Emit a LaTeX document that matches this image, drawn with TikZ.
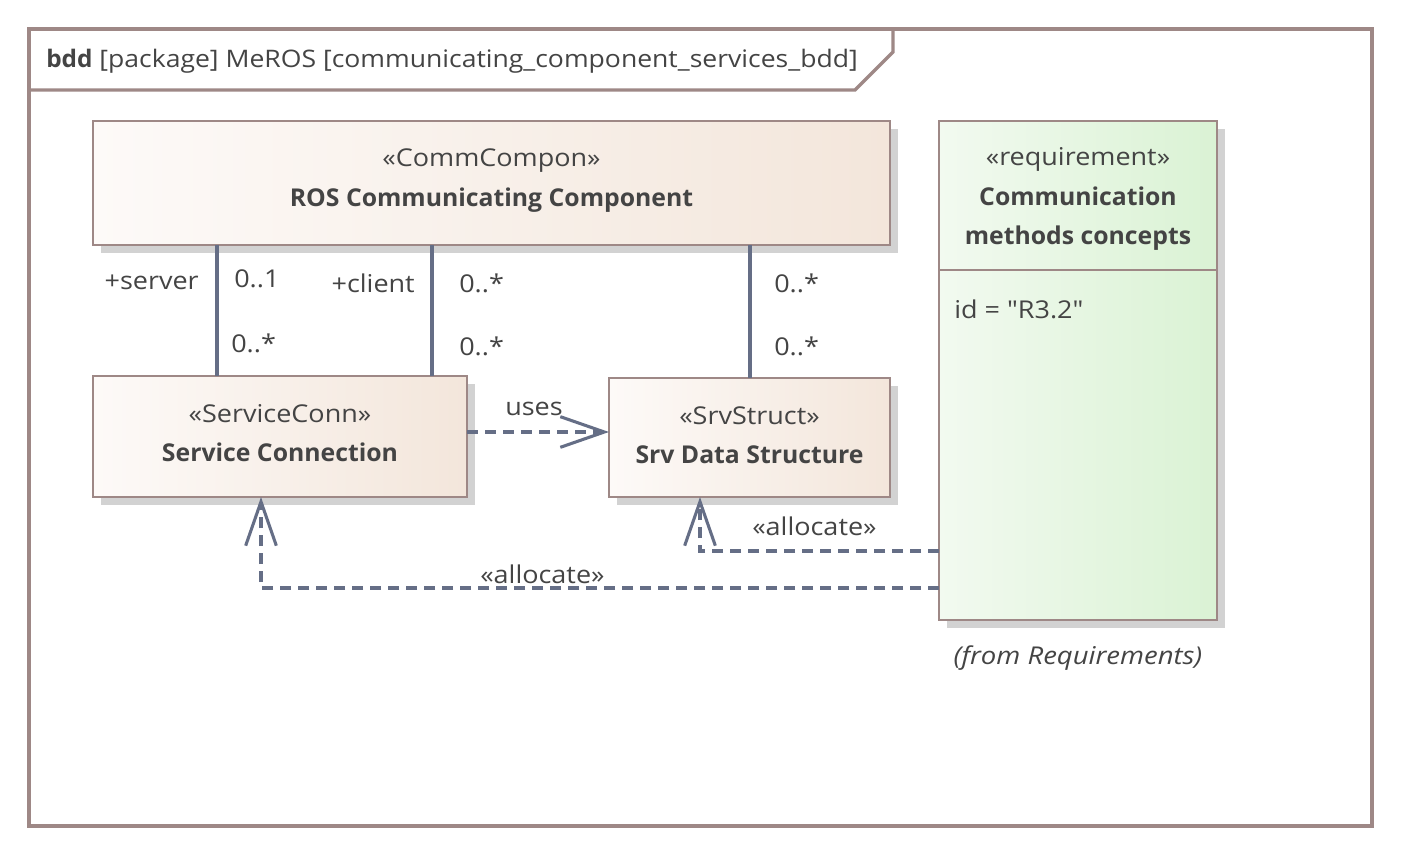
\documentclass[tikz,border=0pt]{standalone}
\usepackage{fontspec}
\setmainfont{Open Sans}[FakeStretch=1.10,
  BoldFeatures={FakeStretch=1.01},
  ItalicFeatures={FakeStretch=1.12}]
\newfontfamily\plainquote{Open Sans}[FakeStretch=1.10]
\usetikzlibrary{arrows.meta}
\definecolor{framec}{RGB}{158,136,134}
\definecolor{textc}{RGB}{68,68,68}
\definecolor{linkc}{RGB}{101,110,134}
\definecolor{shadowc}{RGB}{210,210,210}
\definecolor{beigeL}{RGB}{253,250,248}
\definecolor{beigeR}{RGB}{243,230,219}
\definecolor{greenL}{RGB}{242,250,240}
\definecolor{greenR}{RGB}{218,242,212}
\begin{document}
\begin{tikzpicture}[x=0.75pt,y=-0.75pt,
  every node/.style={text=textc,font=\fontsize{18.4pt}{22pt}\selectfont,inner sep=0pt},
  boxshadow/.style={preaction={fill=shadowc,transform canvas={shift={(6pt,-6pt)}}}},
  blockbox/.style={rectangle,draw=framec,line width=1.9pt,boxshadow,
    left color=beigeL,right color=beigeR,outer sep=0pt},
  reqbox/.style={rectangle,draw=framec,line width=1.9pt,boxshadow,
    left color=greenL,right color=greenR,outer sep=0pt},
  assoc/.style={draw=linkc,line width=2.3pt},
  dep/.style={draw=linkc,line width=2.3pt,dash pattern=on 8.5pt off 5pt,
    -{Straight Barb[length=33pt,width=23pt,line width=2.3pt]}},
  lbl/.style={anchor=base},
]
\useasboundingbox (0,0) rectangle (1401,855);
\fill[white] (0,0) rectangle (1401,855);

% diagram frame and its heading tab
\draw[framec,line width=2.6pt] (29,29) rectangle (1372,826);
\draw[framec,line width=2.6pt] (29,90) -- (855,90) -- (893,52) -- (893,29);
\node[anchor=base west,font=\fontsize{18.1pt}{22pt}\selectfont] (title) at (46,68)
  {\textbf{bdd} [package] MeROS [communicating\_component\_services\_bdd]};

% blocks
\node[blockbox,minimum width=0.75pt*797,minimum height=0.75pt*124] (comm) at (491.5,183) {};
\node[blockbox,minimum width=0.75pt*374,minimum height=0.75pt*121] (svc) at (280,436.5) {};
\node[blockbox,minimum width=0.75pt*281,minimum height=0.75pt*119] (srv) at (749.5,437.5) {};
\node[reqbox,minimum width=0.75pt*278,minimum height=0.75pt*499] (req) at (1078,370.5) {};
\draw[framec,line width=1.9pt] (req.west |- 0,270) -- (req.east |- 0,270);

% block texts
\node[lbl] (commS) at (491.5,167) {«CommCompon»};
\node[lbl] (commN) at (491.5,207) {\textbf{ROS Communicating Component}};
\node[lbl] (svcS) at (280,422) {«ServiceConn»};
\node[lbl] (svcN) at (280,461) {\textbf{Service Connection}};
\node[lbl] (srvS) at (749.5,424) {«SrvStruct»};
\node[lbl] (srvN) at (749.5,463) {\textbf{Srv Data Structure}};
\node[lbl] (reqS) at (1078,166) {«requirement»};
\node[lbl] (reqN1) at (1078,206) {\textbf{Communication}};
\node[lbl] (reqN2) at (1078,245) {\textbf{methods concepts}};
\node[anchor=base west] (reqId) at (954,318) {id = {\plainquote"R3.2"}};
\node[lbl] (reqFrom) at (1078,664) {\textit{(from Requirements)}};

% associations
\draw[assoc] (comm.south -| 217,0) -- (svc.north -| 217,0);
\draw[assoc] (comm.south -| 432,0) -- (svc.north -| 432,0);
\draw[assoc] (comm.south -| 750,0) -- (srv.north -| 750,0);
\node[anchor=base east] (server) at (199,290) {+server};
\node[anchor=base west] (m1) at (234,287) {0..1};
\node[anchor=base west] (m2) at (231,352) {0..*};
\node[anchor=base east] (client) at (415,293) {+client};
\node[anchor=base west] (m3) at (459,293) {0..*};
\node[anchor=base west] (m4) at (459,355) {0..*};
\node[anchor=base west] (m5) at (774,293) {0..*};
\node[anchor=base west] (m6) at (774,355) {0..*};

% dependencies
\draw[dep] (svc.east |- 0,432) -- (srv.west |- 0,432);
\node[anchor=base west] (uses) at (505,415) {uses};
\draw[dep] (req.west |- 0,551) -| (srv.south -| 700,0);
\node[anchor=base west] (alloc1) at (752,535) {«allocate»};
\draw[dep] (req.west |- 0,588) -| (svc.south -| 261,0);
\node[anchor=base west] (alloc2) at (480,583) {«allocate»};
\end{tikzpicture}
\end{document}
